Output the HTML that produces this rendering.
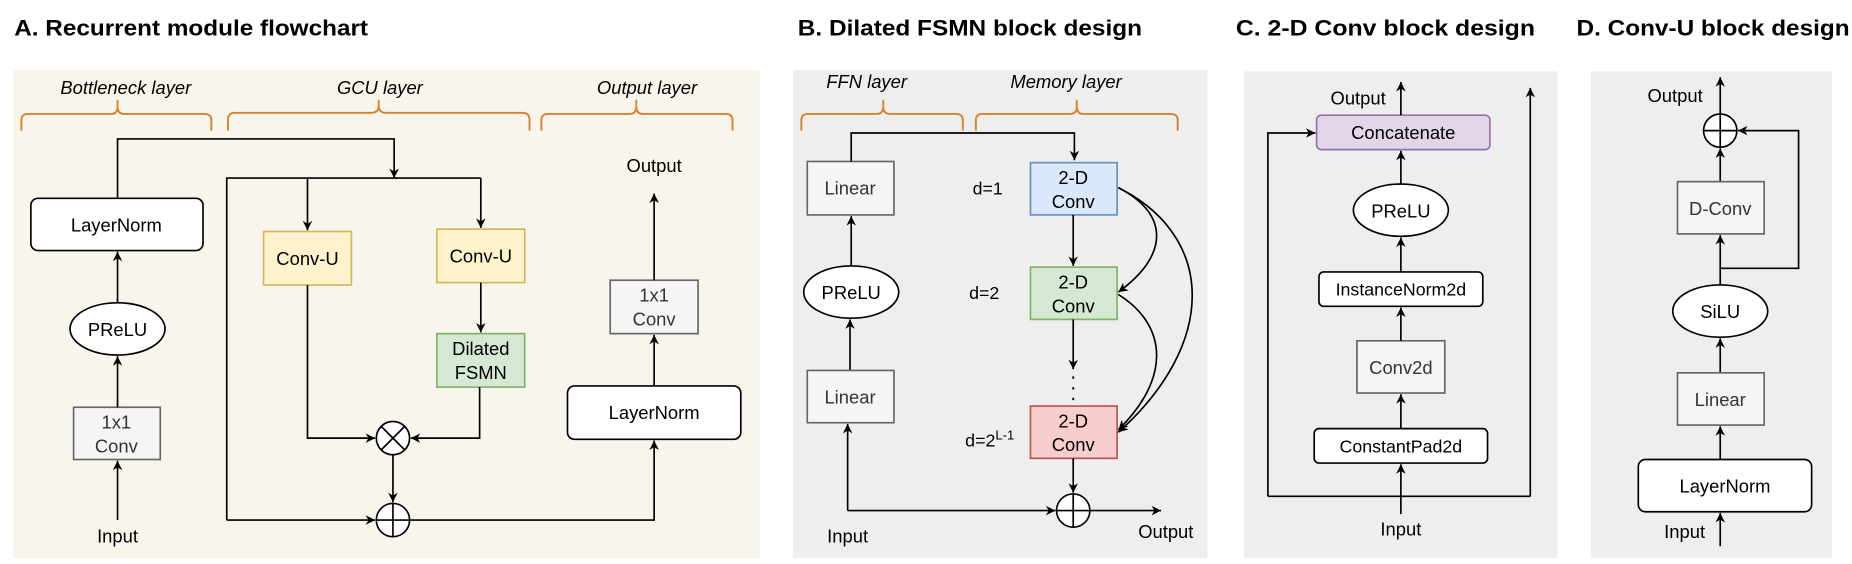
<!DOCTYPE html>
<html><head><meta charset="utf-8"><style>
html,body{margin:0;padding:0;background:#fff;}
svg{display:block;}
text{font-family:"Liberation Sans",Arial,sans-serif;fill:#000;}
.t{font-weight:bold;font-size:19px;}
.i{font-style:italic;font-size:15.5px;}
.n{font-size:15.5px;text-anchor:middle;}
.g{fill:#333;}
.l{stroke:#000;stroke-width:1.4;fill:none;}
.br{stroke:#d9822b;stroke-width:1.6;fill:none;}
</style></head><body>
<svg width="1852" height="564" viewBox="0 0 1560 475" preserveAspectRatio="none" xmlns="http://www.w3.org/2000/svg">
<defs>
<marker id="a" viewBox="0 0 10 10" refX="10" refY="5" markerWidth="8" markerHeight="8" markerUnits="userSpaceOnUse" orient="auto">
<path d="M0,0 L10,5 L0,10 L3,5 z" fill="#000"/></marker>
</defs>
<!-- titles -->
<text class="t" x="12" y="30" textLength="298" lengthAdjust="spacingAndGlyphs">A. Recurrent module flowchart</text>
<text class="t" x="672" y="30" textLength="290" lengthAdjust="spacingAndGlyphs">B. Dilated FSMN block design</text>
<text class="t" x="1041" y="30" textLength="252" lengthAdjust="spacingAndGlyphs">C. 2-D Conv block design</text>
<text class="t" x="1328" y="30" textLength="230" lengthAdjust="spacingAndGlyphs">D. Conv-U block design</text>

<!-- backgrounds -->
<rect x="11" y="59" width="629" height="411" fill="#f8f5ec"/>
<rect x="668" y="59" width="349" height="411" fill="#eeeeee"/>
<rect x="1048" y="60" width="264" height="410" fill="#eeeeee"/>
<rect x="1340" y="60" width="203" height="410" fill="#eeeeee"/>

<!-- Panel A -->
<text class="i" x="106" y="79" text-anchor="middle">Bottleneck layer</text>
<text class="i" x="320" y="79" text-anchor="middle">GCU layer</text>
<text class="i" x="545" y="79" text-anchor="middle">Output layer</text>
<path class="br" d="M18,110 V101 Q18,96 24,96 H93 Q99,96 99,90 V84 V90 Q99,96 105,96 H172 Q178,96 178,101 V110"/>
<path class="br" d="M192,110 V101 Q192,95 198,95 H313 Q319,95 319,89 V84 V89 Q319,95 325,95 H440 Q446,95 446,101 V110"/>
<path class="br" d="M456,110 V101 Q456,96 462,96 H530 Q536,96 536,90 V84 V90 Q536,96 542,96 H611 Q617,96 617,101 V110"/>

<rect x="26" y="167" width="145" height="44" rx="6" fill="#fff" stroke="#000" stroke-width="1.4"/>
<text class="n" x="98" y="195">LayerNorm</text>
<ellipse cx="99" cy="277" rx="40" ry="22" fill="#fff" stroke="#000" stroke-width="1.4"/>
<text class="n" x="99" y="283">PReLU</text>
<rect x="62" y="343" width="73" height="44" fill="#f5f5f5" stroke="#666" stroke-width="1.4"/>
<text class="n g" x="98" y="361">1x1</text><text class="n g" x="98" y="381">Conv</text>
<text class="n" x="99" y="457">Input</text>
<path class="l" d="M99,438 V388" marker-end="url(#a)"/>
<path class="l" d="M99,343 V300" marker-end="url(#a)"/>
<path class="l" d="M99,255 V212" marker-end="url(#a)"/>
<path class="l" d="M99,167 V117 H332 V150" marker-end="url(#a)"/>
<path class="l" d="M191,438 V150 H405"/>
<path class="l" d="M259,150 V194" marker-end="url(#a)"/>
<path class="l" d="M405,150 V192" marker-end="url(#a)"/>
<rect x="222" y="195" width="74" height="45" fill="#fff2cc" stroke="#d6b656" stroke-width="1.4"/>
<text class="n" x="259" y="223">Conv-U</text>
<rect x="368" y="193" width="74" height="45" fill="#fff2cc" stroke="#d6b656" stroke-width="1.4"/>
<text class="n" x="405" y="221">Conv-U</text>
<path class="l" d="M405,238 V280" marker-end="url(#a)"/>
<rect x="368" y="281" width="74" height="45" fill="#d5e8d4" stroke="#82b366" stroke-width="1.4"/>
<text class="n" x="405" y="299">Dilated</text><text class="n" x="405" y="319">FSMN</text>
<path class="l" d="M259,240 V369 H316" marker-end="url(#a)"/>
<path class="l" d="M404,326 V369 H346" marker-end="url(#a)"/>
<circle cx="331" cy="369" r="14" fill="#fff" stroke="#000" stroke-width="1.4"/>
<path class="l" d="M321,359 L341,379 M341,359 L321,379"/>
<path class="l" d="M331,383 V423" marker-end="url(#a)"/>
<circle cx="331" cy="438" r="14" fill="#fff" stroke="#000" stroke-width="1.4"/>
<path class="l" d="M317,438 H345 M331,424 V452"/>
<path class="l" d="M191,438 H316" marker-end="url(#a)"/>
<path class="l" d="M345,438 H551 V371" marker-end="url(#a)"/>
<rect x="478" y="325" width="146" height="45" rx="6" fill="#fff" stroke="#000" stroke-width="1.4"/>
<text class="n" x="551" y="353">LayerNorm</text>
<path class="l" d="M551,325 V282" marker-end="url(#a)"/>
<rect x="514" y="236" width="74" height="45" fill="#f5f5f5" stroke="#666" stroke-width="1.4"/>
<text class="n g" x="551" y="254">1x1</text><text class="n g" x="551" y="274">Conv</text>
<path class="l" d="M551,236 V163" marker-end="url(#a)"/>
<text class="n" x="551" y="145">Output</text>

<!-- Panel B -->
<text class="i" x="730" y="74" text-anchor="middle">FFN layer</text>
<text class="i" x="898" y="74" text-anchor="middle">Memory layer</text>
<path class="br" d="M675,110 V101 Q675,96 681,96 H738 Q744,96 744,90 V84 V90 Q744,96 750,96 H805 Q811,96 811,101 V110"/>
<path class="br" d="M822,110 V101 Q822,96 828,96 H901 Q907,96 907,90 V84 V90 Q907,96 913,96 H986 Q992,96 992,101 V110"/>
<rect x="680" y="136" width="73" height="45" fill="#f5f5f5" stroke="#666" stroke-width="1.4"/>
<text class="n g" x="716" y="164">Linear</text>
<path class="l" d="M717,136 V112 H905 V135" marker-end="url(#a)"/>
<ellipse cx="717" cy="246" rx="40" ry="22" fill="#fff" stroke="#000" stroke-width="1.4"/>
<text class="n" x="717" y="252">PReLU</text>
<path class="l" d="M717,224 V182" marker-end="url(#a)"/>
<path class="l" d="M716,312 V269" marker-end="url(#a)"/>
<rect x="680" y="312" width="73" height="44" fill="#f5f5f5" stroke="#666" stroke-width="1.4"/>
<text class="n g" x="716" y="340">Linear</text>
<path class="l" d="M714,430 V357" marker-end="url(#a)"/>
<path class="l" d="M714,430 H889" marker-end="url(#a)"/>
<text class="n" x="714" y="457">Input</text>
<rect x="868" y="137" width="73" height="44" fill="#dae8fc" stroke="#6c8ebf" stroke-width="1.4"/>
<text class="n" x="904" y="155">2-D</text><text class="n" x="904" y="175">Conv</text>
<rect x="868" y="225" width="73" height="44" fill="#d5e8d4" stroke="#82b366" stroke-width="1.4"/>
<text class="n" x="904" y="243">2-D</text><text class="n" x="904" y="263">Conv</text>
<rect x="868" y="342" width="73" height="44" fill="#f8cecc" stroke="#b85450" stroke-width="1.4"/>
<text class="n" x="904" y="360">2-D</text><text class="n" x="904" y="380">Conv</text>
<text x="832" y="164" style="font-size:15px" text-anchor="middle">d=1</text>
<text x="829" y="252" style="font-size:15px" text-anchor="middle">d=2</text>
<text x="813" y="376" style="font-size:15px">d=2<tspan dy="-6" style="font-size:11px">L-1</tspan></text>
<path class="l" d="M904,181 V224" marker-end="url(#a)"/>
<path class="l" d="M904,269 V311" marker-end="url(#a)"/>
<path d="M904,317 V342" stroke="#000" stroke-width="1.6" stroke-dasharray="2,7" fill="none"/>
<path class="l" d="M904,386 V415" marker-end="url(#a)"/>
<circle cx="904" cy="430" r="14" fill="#fff" stroke="#000" stroke-width="1.4"/>
<path class="l" d="M890,430 H918 M904,416 V444"/>
<path class="l" d="M918,430 H978" marker-end="url(#a)"/>
<text class="n" x="982" y="453">Output</text>
<path class="l" d="M942,158 C985,180 985,215 942,246" marker-end="url(#a)"/>
<path class="l" d="M942,158 C1025,200 1025,290 942,364" marker-end="url(#a)"/>
<path class="l" d="M942,248 C985,275 985,320 942,362" marker-end="url(#a)"/>

<!-- Panel C -->
<rect x="1109" y="97" width="146" height="29" rx="4" fill="#e1d5e7" stroke="#9673a6" stroke-width="1.4"/>
<text class="n" x="1182" y="117">Concatenate</text>
<text class="n" x="1144" y="88">Output</text>
<path class="l" d="M1180,97 V69" marker-end="url(#a)"/>
<ellipse cx="1180" cy="177" rx="40" ry="22" fill="#fff" stroke="#000" stroke-width="1.4"/>
<text class="n" x="1180" y="183">PReLU</text>
<path class="l" d="M1180,155 V127" marker-end="url(#a)"/>
<rect x="1111" y="229" width="138" height="29" rx="4" fill="#fff" stroke="#000" stroke-width="1.4"/>
<text class="n" x="1180" y="249" style="font-size:15px">InstanceNorm2d</text>
<path class="l" d="M1180,229 V200" marker-end="url(#a)"/>
<rect x="1143" y="287" width="74" height="44" fill="#f5f5f5" stroke="#666" stroke-width="1.4"/>
<text class="n g" x="1180" y="315">Conv2d</text>
<path class="l" d="M1180,287 V259" marker-end="url(#a)"/>
<rect x="1107" y="361" width="146" height="29" rx="4" fill="#fff" stroke="#000" stroke-width="1.4"/>
<text class="n" x="1180" y="381" style="font-size:15px">ConstantPad2d</text>
<path class="l" d="M1180,361 V332" marker-end="url(#a)"/>
<path class="l" d="M1180,433 V391" marker-end="url(#a)"/>
<text class="n" x="1180" y="451">Input</text>
<path class="l" d="M1068,418 H1289"/>
<path class="l" d="M1068,418 V112 H1108" marker-end="url(#a)"/>
<path class="l" d="M1289,418 V74" marker-end="url(#a)"/>

<!-- Panel D -->
<text class="n" x="1411" y="86">Output</text>
<path class="l" d="M1449,96 V65" marker-end="url(#a)"/>
<circle cx="1449" cy="110" r="14" fill="#fff" stroke="#000" stroke-width="1.4"/>
<path class="l" d="M1435,110 H1463 M1449,96 V124"/>
<path class="l" d="M1449,153 V125" marker-end="url(#a)"/>
<rect x="1413" y="153" width="73" height="44" fill="#f5f5f5" stroke="#666" stroke-width="1.4"/>
<text class="n g" x="1449" y="181">D-Conv</text>
<path class="l" d="M1449,240 V198" marker-end="url(#a)"/>
<path class="l" d="M1449,226 H1515 V110 H1464" marker-end="url(#a)"/>
<ellipse cx="1449" cy="262" rx="40" ry="22" fill="#fff" stroke="#000" stroke-width="1.4"/>
<text class="n" x="1449" y="268">SiLU</text>
<path class="l" d="M1449,314 V285" marker-end="url(#a)"/>
<rect x="1413" y="314" width="73" height="44" fill="#f5f5f5" stroke="#666" stroke-width="1.4"/>
<text class="n g" x="1449" y="342">Linear</text>
<path class="l" d="M1449,387 V359" marker-end="url(#a)"/>
<rect x="1380" y="387" width="146" height="44" rx="6" fill="#fff" stroke="#000" stroke-width="1.4"/>
<text class="n" x="1453" y="415">LayerNorm</text>
<path class="l" d="M1449,460 V432" marker-end="url(#a)"/>
<text class="n" x="1419" y="453">Input</text>
</svg>
</body></html>
